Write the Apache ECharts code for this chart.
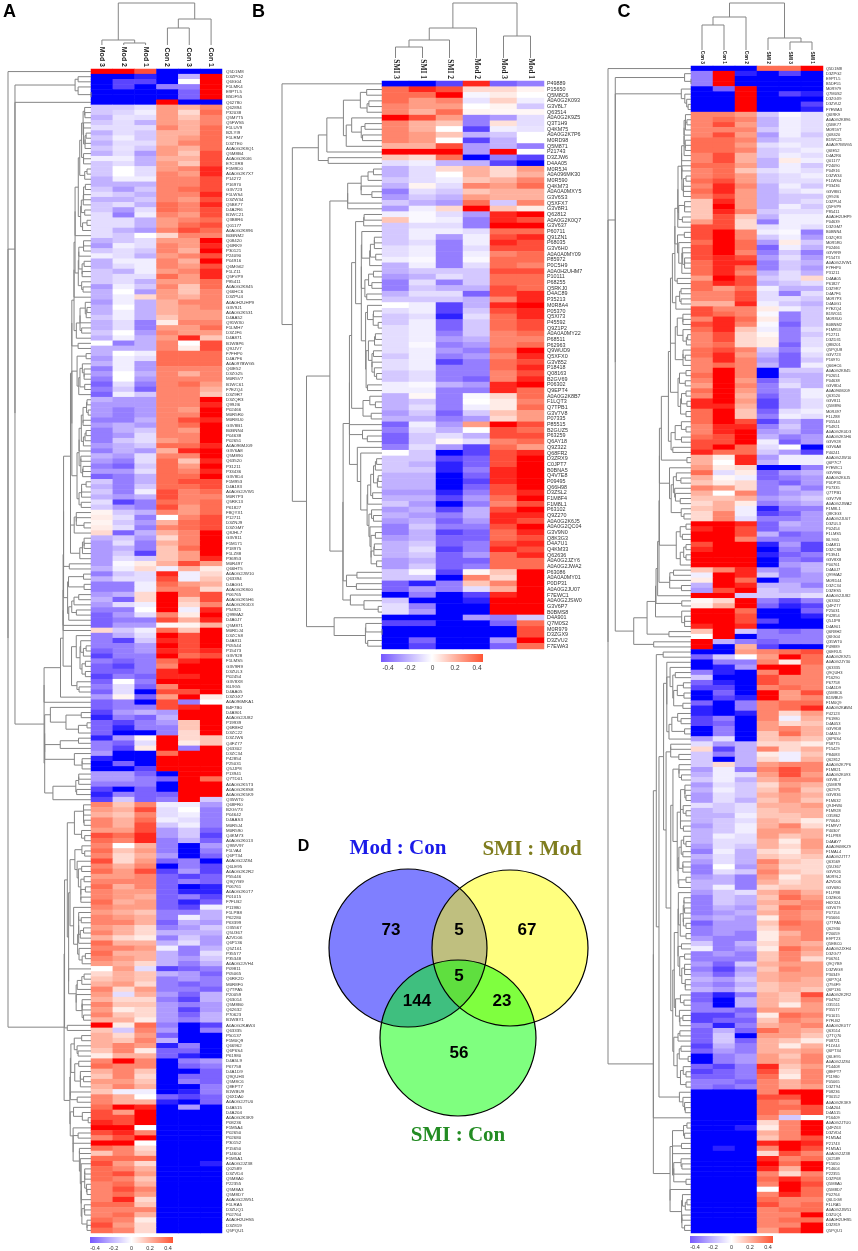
<!DOCTYPE html>
<html><head><meta charset="utf-8">
<script src="https://cdn.jsdelivr.net/npm/echarts/dist/echarts.min.js"></script>
<style>html,body{margin:0;padding:0;background:#fff}#c{width:858px;height:1251px}</style>
</head><body><div id="c"></div>
<script>
// ---------------- DATA ----------------
const A_cols = ['Mod 3','Mod 2','Mod 1','Con 2','Con 3','Con 1'];
const A_rows = ['Q5D1M8','D3ZPG2','Q6IG04','F1LMK4','E9PTL5','B5DF55','Q62780','Q62894','P32038','Q5M7T5',
'Q5FWS5','F1LUV9','B2LYI9','F1LRM7','D3ZTE0','A0A0G2K8Q1','Q5M8B4','A0A0G2K0I6','E7CXR8','F1M9D0',
'A0A0G2K7X7','P14272','P16970','G3V723','F1LWS4','D3ZW34','Q5BK77','D4A2R6','B1WC21','Q3B8R6',
'Q01177','A0A0G2K896','B0BNM2','Q08420','Q6IRK9','P30121','P24090','P04916','Q6MG62','F1LZ11',
'Q5FVP9','P85411','A0A0G2K845','Q66HC6','D3ZPU4','A0A0H2UHP9','G3V9J1','A0A0G2K531','D4AA52','Q91WX0',
'F1LMH7','D3ZJF6','D4A871','B1WBP6','Q9JJV7','F7FHP0','D4A7F6','A0A097BWG5','Q6IE52','D3ZG25',
'M0R5V7','B1WC61','F7EZQ4','D3Z9R7','D3ZQR3','Q99JI6','P02466','M0R5R0','M0R8U0','G3V8B1',
'B0BNN4','P04638','P02651','A0A096MJ09','G3V6A8','Q5M890','Q63520','P31211','P33436','G3V8D4',
'F1M953','D4A183','A0A0G2JVW1','M0R7P3','Q5RK13','P61827','F8QYX1','P12711','D3ZNJ9','D3ZGM7',
'Q8JHL7','G3V811','F1M171','P18975','F1LZ88','P36953','M0R497','Q66HT5','A0A0G2JW10','Q63394',
'D4A0G1','A0A0G2K800','P06765','A0A0G2K5H6','A0A0G2K0D3','P54921','Q99MA2','D4A0J7','Q5M871','M0RDJ4',
'D3ZCS8','D4A811','P05544','P15473','G3V928','F1LMS5','G3V9R9','D3ZUL3','P02454','G3V8X8',
'I6L9G5','D4AA05','D3ZGX7','A0A096MKA1','B4F7B0','D4A901','A0A0G2JU82','P19939','Q6R8H2','D3ZC22',
'D3ZJW6','Q4FZ77','Q63302','D3ZC34','P42854','P25031','Q5JJP8','P13941','Q7TD01','A0A0G2K5T3',
'A0A0G2K8S8','A0A0G2K5K9','Q35WT0','Q68FR0','B2GV73','P04642','D4AAS3','M0R5J4','M0R590','Q4KM73',
'A0A0G2K013','Q9WV97','F1LVA4','Q6PT34','A0A0G2JZ84','Q6LE95','A0A0G2K2R2','P55446','Q9QYB9','P06761',
'A0A0G2K0T7','P01015','F7FLB2','P11980','F1LPB8','P62280','P63399','O35567','Q5U367','A2VD06',
'Q6P136','Q5Z161','P35577','P35348','A0A0G2JVH4','P09811','P05065','Q6RK2D','M0R8F0','Q7TPA5',
'P20059','Q63014','Q5M8B0','Q62632','P70623','B1WBY1','A0A0G2KAW4','Q63335','P50137','F1M0Q9',
'Q66962','Q6P6S4','P61980','D4A5L9','P67758','D4A1D9','Q9QUH3','Q5M8C6','Q8EPT7','B1WBU9',
'Q6XDA0','A0A0G2JTU0','D4A515','D4A204','A0A0G2K3K9','P08236','F1M5A4','P02650','P02680','P30152',
'P15650','P14604','F1M5A1','A0A0G2JZ38','Q02589','D3ZVD4','Q5M8A0','P22355','Q5M8A3','Q5M8D7',
'A0A0G2JW51','F1LRA5','D3ZUQ1','P02764','A0A0H2UHS5','D3Z819','Q5PQU1'];
const A_values = [
[.5,.5,.4,-.5,-.5,-.5],[-.5,-.5,-.45,-.5,-.2,.5],[-.5,-.4,-.4,-.5,0,.5],[-.5,-.4,-.5,-.3,-.3,.5],[-.5,-.5,-.5,-.5,-.35,.5],
[-.5,-.5,-.5,-.5,-.35,.5],[-.5,-.5,-.5,.5,-.5,-.5],[-.15,-.15,-.1,.25,.2,.3],[-.15,-.12,-.05,.25,.1,.35],[-.2,-.08,-.1,.25,.15,.3],
[-.15,-.1,-.2,.25,.2,.3],[-.1,-.1,-.1,.3,.2,.35],[-.2,-.1,-.15,.2,.2,.35],[-.15,-.05,-.15,.2,.25,.35],[-.2,-.1,-.1,.2,.3,.35],
[-.15,-.08,-.15,.25,.2,.35],[-.2,-.1,-.25,.25,.15,.4],[-.05,-.05,-.2,.2,.2,.4],[-.15,-.1,-.2,.25,.15,.4],[-.15,0,-.1,.25,.3,.45],
[-.15,0,-.1,.3,.25,.45],[-.2,-.05,-.05,.3,.3,.4],[-.2,-.2,-.2,.3,.3,.4],[-.15,-.25,-.15,.3,.35,.4],[-.1,-.15,-.2,.3,.3,.45],
[-.2,-.2,-.15,.3,.25,.4],[-.15,-.1,-.2,.35,.3,.45],[-.15,-.25,-.1,.35,.3,.4],[-.1,-.3,-.05,.3,.25,.4],[-.1,-.1,-.2,.25,.3,.35],
[-.1,-.1,-.2,.25,.35,.4],[-.1,-.2,-.25,.3,.4,.35],[-.1,-.15,0,.1,.3,.3],[-.2,-.15,-.1,.25,.25,.5],[-.25,-.05,-.1,.3,.25,.45],
[-.15,-.1,-.15,.3,.2,.5],[-.05,-.1,-.2,.25,.3,.4],[-.2,-.05,-.05,.3,.2,.5],[-.2,-.1,-.05,.3,.25,.4],[-.15,-.2,-.05,.25,.3,.45],
[-.15,-.1,-.1,.35,.25,.45],[-.15,-.1,-.2,.25,.25,.35],[-.25,-.05,-.15,.3,.15,.35],[-.2,0,-.25,.25,.15,.3],[-.2,-.05,.1,.25,.2,.3],
[-.25,-.05,-.2,.2,.3,.3],[-.2,0,-.2,.2,.25,.3],[-.2,-.05,-.2,.2,.25,.25],[-.15,-.05,-.2,.15,.25,.25],[-.2,-.1,-.3,.05,.3,.3],
[-.2,-.1,-.3,.25,.25,.35],[-.15,0,-.25,.3,.25,.25],[-.2,-.05,-.2,.25,.45,.15],[0,-.3,-.2,.3,0,.4],[-.2,-.2,-.2,.3,.05,.4],
[-.2,0,-.05,.35,.35,.35],[-.25,-.05,-.1,.35,.35,.35],[-.2,-.05,-.25,.35,.35,.35],[-.3,-.05,-.25,.3,.3,.3],[-.25,0,-.2,.3,.2,.3],
[-.3,0,-.25,.3,.3,.3],[-.35,-.1,-.3,.3,.35,.25],[-.3,-.15,-.35,.3,.3,.2],[-.35,-.05,-.15,.3,.3,.15],[-.2,-.25,-.25,.3,.3,.5],
[-.25,-.25,-.25,.3,.3,.45],[-.25,-.3,-.25,.3,.25,.5],[-.25,-.3,-.25,.3,.3,.5],[-.3,-.3,-.2,.3,.4,.45],[-.25,-.2,-.25,.3,.35,.5],
[-.3,-.2,-.15,.3,.25,.5],[-.3,-.25,-.1,.3,.3,.5],[-.3,-.15,-.1,.25,.3,.5],[-.25,-.2,-.15,.35,.35,.45],[-.3,-.2,-.25,.2,.45,.5],
[-.2,-.25,-.1,.3,.3,.5],[-.25,-.3,-.1,.35,.15,.45],[-.3,-.35,-.15,.35,.25,.5],[-.25,-.25,-.1,.35,.3,.45],[-.35,-.3,-.2,.35,.35,.5],
[-.15,-.3,-.2,.35,.4,.4],[-.2,-.3,-.15,.35,.35,.4],[-.15,-.3,-.05,.4,.3,.35],[-.2,-.25,-.2,.4,.3,.3],[-.1,-.4,-.3,.35,.3,.35],
[-.15,-.25,-.3,.4,.25,.35],[.03,-.15,-.2,.3,.25,.35],[.05,-.1,-.3,0,.3,.4],[.03,-.15,-.25,.2,.35,.4],[.05,-.1,-.3,.3,.35,.4],
[.1,-.35,-.2,.2,.3,.5],[-.2,-.15,-.25,.1,.3,.5],[-.25,-.1,-.3,.2,.3,.5],[-.25,-.2,-.3,.15,.35,.5],[-.25,-.15,-.4,.15,.25,.5],
[-.25,-.1,-.15,.15,.25,.45],[-.25,-.02,.05,.2,.4,.25],[-.2,-.05,.1,-.05,.2,.05],[-.3,-.15,-.1,.45,-.05,.1],[-.2,-.1,-.1,.4,-.05,.15],
[-.3,-.3,-.05,.35,.25,.2],[-.3,-.3,-.05,.3,.3,.1],[-.25,-.2,.1,.5,.3,.4],[-.2,-.35,.1,.5,.15,.4],[-.25,-.1,-.05,.5,.1,.3],
[-.3,-.3,0,.5,-.05,.45],[-.35,-.25,-.1,.3,.05,.5],[-.35,-.3,-.3,.4,.2,.45],[-.35,-.25,-.25,.02,.03,.2],[.1,-.15,-.05,.35,.15,.5],
[-.3,-.2,-.1,.5,.4,.5],[-.3,-.4,-.15,.45,.4,.5],[-.3,-.3,-.25,.5,.4,.5],[-.35,-.3,-.25,.45,.4,.45],[-.4,-.3,-.3,.5,.35,.4],
[-.3,-.35,-.3,.35,.45,.5],[-.35,-.4,-.3,.3,.5,.5],[-.35,-.35,-.3,.45,.5,.5],[-.4,-.3,-.35,.45,.45,.5],[-.35,0,-.3,.5,.5,.5],
[-.3,-.1,-.35,.3,.5,.5],[-.35,-.1,-.5,.4,.4,.5],[-.25,.03,-.35,.25,.5,.05],[-.35,-.3,-.5,.4,-.3,0],[-.35,-.3,-.3,.4,.45,.5],
[-.4,-.25,-.2,-.25,.5,.5],[-.45,-.3,-.35,-.2,.5,.5],[-.35,-.4,-.3,-.25,.15,.5],[-.35,-.45,-.3,-.3,.15,.5],[-.35,-.5,-.5,-.3,.1,.5],
[-.45,-.25,.02,.5,.1,.15],[-.3,-.35,-.1,.5,.05,.15],[-.3,-.4,.05,.5,-.3,.5],[-.25,-.5,-.5,.35,.5,.5],[-.45,-.5,-.5,.5,.5,.5],
[-.5,-.35,-.5,.5,.5,.5],[-.5,-.5,-.4,.5,.5,.5],[-.25,-.25,-.35,-.5,.5,.5],[-.25,-.25,-.3,-.35,.5,.35],[-.3,-.3,-.3,-.5,.5,.5],
[-.4,-.5,-.35,-.5,.5,.5],[-.45,-.3,-.35,-.35,.5,.5],[-.4,-.15,-.35,-.3,.5,-.15],[.3,.15,.3,-.05,-.05,-.25],[.25,.2,.4,-.1,0,-.3],
[.2,.15,.3,-.1,-.05,-.3],[.3,.2,.35,-.05,-.1,-.3],[.3,.2,.4,-.15,-.05,-.3],[.25,.25,.4,-.25,-.15,-.35],[.4,.35,.45,-.25,-.15,-.4],
[.35,.3,.45,-.3,-.2,-.35],[.3,0,.2,-.3,-.5,-.25],[.35,.15,.25,-.3,-.5,-.3],[.3,.1,.2,-.25,-.5,-.35],[.4,.1,.25,-.35,-.3,-.5],
[.3,.2,.3,-.5,-.3,-.4],[.35,.25,.4,-.4,-.25,-.4],[.25,.25,.3,-.35,-.4,-.35],[.3,.3,.3,-.35,-.3,-.35],[.35,.2,.3,-.35,-.5,-.45],
[.3,.25,.25,-.35,-.45,-.45],[.3,.25,.2,-.35,-.3,-.4],[.35,.2,.25,-.35,-.45,-.35],[.3,.25,.25,-.35,-.4,-.05],[.25,.2,.15,-.3,-.3,-.2],
[.3,.25,.2,-.3,-.05,-.2],[.3,.3,.2,-.35,-.2,-.25],[.25,.2,.1,-.3,-.25,-.15],[.3,.2,.1,-.2,-.2,-.2],[.2,.1,.05,-.3,-.15,-.25],
[.35,.2,.2,-.2,-.1,-.25],[.3,.3,.25,-.05,-.3,-.2],[.35,.2,.2,-.2,-.3,-.1],[.3,.25,.2,-.2,-.25,-.15],[.25,.2,.1,-.2,-.3,-.2],
[0,.25,-.1,-.4,-.35,-.3],[.1,.2,.15,-.2,-.25,-.35],[.15,.2,.15,-.3,-.25,-.3],[.2,.25,.1,-.3,-.35,-.3],[.3,.1,.25,-.3,-.3,-.35],
[.25,-.1,.2,-.25,-.35,-.2],[.2,.1,.1,-.3,-.4,-.2],[.3,.15,.15,-.25,-.3,-.25],[.25,.05,.1,-.25,-.4,-.25],[.3,.15,.1,-.25,-.35,-.2],
[.2,.2,.05,-.25,-.3,-.2],[.5,.05,.35,-.3,-.5,-.4],[.15,-.15,.3,-.25,-.5,-.3],[.2,.1,.25,-.35,-.5,-.5],[.2,.15,.3,-.2,-.5,-.5],
[.2,.3,.25,-.45,-.3,-.5],[.15,.3,.05,-.35,-.35,-.5],[.05,.2,.2,-.35,-.45,-.5],[.3,.5,.3,-.5,-.3,-.25],[.35,.3,.3,-.5,-.35,-.3],
[.2,.3,.15,-.5,-.5,-.35],[.15,.3,.1,-.5,-.35,-.35],[.25,.25,.15,-.5,-.3,-.35],[.2,.3,.2,-.5,-.5,-.3],[.15,-.05,-.05,-.5,-.45,-.3],
[.3,.2,0,-.35,-.4,-.35],[.3,.2,.2,-.45,-.5,-.35],[.35,.5,.45,-.5,-.25,-.5],[.4,.25,.5,-.5,-.5,-.5],[.4,.4,.5,-.5,-.5,-.5],
[.45,.4,.5,-.5,-.5,-.5],[.5,.5,0,-.5,-.5,-.5],[.4,.45,.3,-.5,-.5,-.5],[.3,.4,.5,-.5,-.5,-.5],[.5,.5,0,-.5,-.5,-.5],
[.35,.3,.1,-.5,-.5,-.5],[.15,.3,.15,-.5,-.5,-.5],[.35,.35,.35,-.5,-.5,-.5],[.4,.25,.1,-.5,-.5,-.45],[.35,.3,.2,-.5,-.5,-.5],
[.35,.4,.25,-.5,-.5,-.5],[.35,.3,.15,-.5,-.5,-.5],[.3,.35,.2,-.5,-.5,-.5],[.3,.4,.3,-.5,-.5,-.5],[.3,.35,.25,-.5,-.5,-.5],
[.3,.45,.1,-.5,-.5,-.5],[.35,.35,.15,-.5,-.5,-.5],[.3,.3,.3,-.5,-.5,-.5],[.3,.35,.2,-.5,-.5,-.5],[.35,.3,.05,-.5,-.5,-.5],
[.4,.25,.1,-.5,-.5,-.5],[.35,.3,.1,-.5,-.5,-.5]];
// column dendrogram: [left, right, height] (scipy-style node numbering)
const A_colLinkage = [[1,2,2],[0,6,5],[3,4,17],[8,5,26],[7,9,42]];

const B_cols = ['SMI 3','SMI 1','SMI 2','Mod 2','Mod 3','Mod 1'];
const B_rows = ['P49889','P15650','Q5M8C6','A0A0G2K093','G3V8L7','Q63514','A0A0G2K9Z5','Q3T1H9','Q4KM75','A0A0G2K7P6',
'M0RD98','Q5M871','P21743','D3ZJW6','D4AA05','M0R5J4','A0A096MK30','M0R590','Q4KM73','A0A0A0MXY5',
'G3V6S3','Q5XFX7','G3V8R1','Q62812','A0A0G2K0Q7','G3V637','P60711','Q91ZN1','P68035','G3V6H0',
'A0A0A0MY09','P85972','P0C5H9','A0A0H2UHM7','P10111','P68255','Q5RKJ0','D4AC89','P35213','M0R8A4',
'P05370','Q5XI73','P45592','Q9Z1P2','A0A0A0MY22','P68511','P62963','Q9WUD9','Q5XFX0','G3V852',
'P18418','Q08163','B2GV69','P06302','Q9EPT4','A0A0G2K8B7','F1LQT3','Q7TPB1','G3V7V8','P07335',
'P85515','B2GUZ5','P63259','Q6AY18','Q9Z322','Q68FR2','D3ZRX9','C0JPT7','B0BNA5','Q4V7E8',
'P09495','Q66H98','D3ZSL2','F1M8F4','F1M8L1','P63102','Q9Z270','A0A0G2K6J5','A0A0G2QC04','G3V9N0',
'Q8K3G3','D4A7U1','Q4KM33','Q62636','A0A0G2JZY6','A0A0G2JWA2','P63086','A0A0A0MY01','P0DP31','A0A0G2JU07',
'F7EWC1','A0A0G2JSW0','G3V6P7','B0BMS8','D4A901','Q7M0S2','M0R979','D3ZGX9','D3ZVU2','F7EWA3'];
const B_values = [
[-.5,-.5,-.4,.45,-.35,-.3],[.35,.45,.4,.1,.1,.03],[.35,.35,.5,-.03,.05,0],[.35,.25,.3,-.08,.12,-.05],[.3,.25,.25,0,.03,-.15],
[.3,.2,.35,.03,.02,.02],[.5,.4,.25,-.3,-.25,-.1],[.3,.2,.15,-.3,.08,-.1],[.3,.2,0,-.4,-.05,-.08],[.3,.25,.15,-.2,-.15,0],
[.3,.25,0,-.4,-.2,0],[.2,.2,.4,-.25,-.2,-.3],[.5,.5,.5,-.25,.5,0],[.15,.1,.35,-.5,-.3,-.4],[-.1,-.05,-.2,-.2,-.4,-.5],
[-.2,-.1,.1,.2,.1,.25],[-.2,-.1,0,.2,.1,.2],[-.15,-.1,-.05,.15,.2,.3],[-.2,.03,-.1,.3,.25,.35],[-.3,-.1,-.15,.15,.2,.2],
[-.25,-.15,-.2,.25,.2,.2],[-.15,-.2,-.25,.35,-.15,.3],[-.25,-.05,.1,.5,.15,.05],[-.05,-.02,-.1,-.25,.45,.5],[.15,-.02,-.05,-.3,.45,.4],
[-.15,-.1,-.1,-.3,.5,.5],[-.15,-.05,-.05,-.1,.35,.35],[-.15,-.05,-.25,-.05,.4,.45],[-.15,-.1,-.3,-.05,.45,.4],[-.1,-.05,-.3,-.1,.4,.4],
[-.1,-.05,-.3,-.05,.3,.35],[-.05,-.02,-.3,-.02,.35,.35],[-.2,-.05,-.3,-.1,.35,.3],[-.2,-.15,-.15,-.15,.4,.4],[-.25,-.2,-.1,-.15,.35,.35],
[-.3,-.1,-.3,-.15,.35,.35],[-.3,-.15,-.2,-.2,.4,.35],[-.2,-.1,-.1,-.35,.4,.45],[-.15,-.15,-.15,-.2,.3,.45],[0,-.05,-.4,-.2,.45,.5],
[-.1,-.05,-.4,-.15,.4,.45],[-.15,-.1,-.45,-.1,.35,.45],[-.15,-.05,-.35,-.15,.35,.4],[-.1,-.05,-.35,-.15,.35,.4],[-.1,-.05,-.3,-.15,.3,.35],
[-.1,-.05,-.25,-.2,.3,.3],[-.1,-.02,-.3,-.25,.3,.35],[-.1,-.05,-.25,-.3,.35,.5],[-.15,-.05,-.3,-.25,.3,.45],[-.1,-.05,-.4,-.3,.35,.4],
[-.1,-.05,-.3,-.3,.35,.45],[-.15,-.1,-.3,-.3,.3,.4],[-.15,-.1,-.3,-.35,.3,.45],[-.05,-.02,-.2,-.25,.45,.5],[-.05,-.05,-.3,-.3,.45,.35],
[-.2,.02,-.3,-.02,.1,.35],[-.2,-.15,-.3,0,.05,.3],[-.2,-.1,-.3,-.05,.05,.35],[-.25,-.15,-.35,-.15,.15,.25],[-.2,-.2,-.3,-.25,.1,.25],
[-.35,-.05,-.25,.25,.5,.4],[-.3,-.1,-.2,0,.4,.35],[-.35,-.15,-.1,-.2,.4,.4],[-.35,-.15,.02,-.1,.3,.35],[-.3,-.1,-.25,-.4,.35,.25],
[0,-.15,-.5,-.4,.4,.45],[-.15,-.15,-.4,-.35,.4,.5],[-.15,-.2,-.45,-.35,.4,.5],[-.15,-.15,-.45,-.3,.45,.5],[-.2,-.2,-.5,-.35,.45,.5],
[-.2,-.2,-.5,-.4,.45,.5],[-.2,-.2,-.5,-.35,.4,.5],[-.25,-.25,-.45,-.3,.4,.45],[-.2,-.2,-.4,-.25,.35,.5],[-.15,-.25,-.5,-.3,.3,.4],
[-.25,-.2,-.4,-.2,.4,.5],[-.2,-.25,-.3,-.2,.45,.45],[-.25,-.2,-.35,-.25,.45,.4],[-.3,-.15,-.3,-.3,.4,.5],[-.3,-.2,-.4,-.35,.35,.45],
[-.25,-.2,-.35,-.35,.35,.4],[-.2,-.15,-.35,-.3,.4,.45],[-.2,-.1,-.4,-.3,.45,.4],[-.2,-.15,-.35,-.25,.35,.45],[-.25,-.2,-.35,-.35,.35,.35],
[-.25,-.15,-.35,-.3,.35,.35],[-.15,-.02,-.4,.02,.15,.5],[-.15,-.15,-.5,.3,.1,.5],[-.35,-.45,-.3,.15,.3,.5],[-.35,-.25,-.3,-.1,.2,.5],
[-.5,-.3,-.5,-.4,.45,.5],[-.15,-.5,-.5,-.45,.5,.5],[-.1,-.3,-.5,-.5,.5,.5],[-.1,-.25,-.5,-.5,.5,.5],[-.5,-.5,-.5,-.25,-.3,-.15],
[-.4,-.4,-.5,-.5,-.35,.35],[-.5,-.5,-.5,-.5,-.5,.4],[-.5,-.5,-.5,-.5,-.5,.4],[-.5,-.35,-.5,-.5,-.25,.5],[-.5,-.4,-.5,-.5,-.35,.35]];
const B_colLinkage = [[0,1,11],[6,2,18],[7,3,30],[4,5,22],[8,9,55]];

const C_cols = ['Con 3','Con 1','Con 2','SMI 2','SMI 3','SMI 1'];
const C_rows = ['Q5D1M8','D3ZPG2','E9PTL5','B5DF55','M0R979','Q7M0S2','D3ZGX9','D3ZVU2','F7EWA3','Q6IRK9',
'A0A0G2K896','Q5BK77','M0R5V7','Q08420','B1WC21','A0A097BWG5','Q6IE52','D4A2R6','Q01177','P24090',
'P04916','D3ZW34','F1LWS4','P33436','G3V8B1','Q99JI6','D3ZPU4','Q5FVP9','P85411','A0A0H2UHP9',
'P04639','D3ZGM7','B0BNN4','D3ZQR3','M0R5R0','P02466','G3V9R9','P15473','A0A0G2JVW1','F7FHP0',
'P31211','D4AA05','P61827','D3Z9R7','D4A7F6','M0R7P3','D4A0G1','F7EZQ4','B1WC61','M0R8U0',
'B0BNM2','F1M953','P12711','D3ZD31','Q8B201','Q5PQU8','G3V723','P16970','Q66HC6','A0A0G2K845',
'P02651','P04638','G3V8D4','A0A096MJ09','Q63520','G3V811','Q5M890','M0R497','F1LZ88','P05544',
'P54921','A0A0G2K0D3','A0A0G2K5H6','G3V928','G3V6A8','P40241','A0A0G2JW10','Q6P7C7','F7EWC1','G3V9N0',
'A0A0G2K6J5','P0DP31','P07335','Q7TPB1','G3V7V8','A0A0G2JWA2','F1M8L1','Q8K3G3','A0A0G2JU07','D3ZUL3',
'P02454','F1LMS5','I6L9G5','D4A811','D3ZCS8','P13941','G3V8X8','P00761','D4A0J7','Q99MA2',
'M0RDJ4','D3ZC34','D3ZES5','A0A0G2JU82','Q63302','Q4FZ77','P25031','P42854','Q5JJP8','D4A901',
'Q6R8H2','Q6IG04','Q35WT0','P49889','Q6ERU1','A0A0G2K9Z5','A0A0G2JY30','Q63335','Q9QUH3','P16290',
'P67758','D4A1D9','Q5M8C6','B1WBU9','F1M0Q9','A0A0G2KAW4','P42123','P61980','D4A053','G3V9D8',
'D4A5L9','Q6P6S4','P58775','P15429','P84083','Q62812','A0A0G2K7P6','F1M821','A0A0G2K093','G3V8L7',
'Q5M878','Q62975','G3V836','F1M632','Q9JHW0','F1M928','O35862','P70640','F1M9V7','P40307',
'F1LPR8','D4AAY7','A0A096MKZ9','F1MAL4','A0A0G2JTT7','Q63569','Q5U367','G3V926','M0R9L2','A2VD06',
'G3V680','F1LP88','D3ZE06','H6X324','G3V679','P07154','P05666','Q7TPA5','Q62930','P20059',
'E9PT23','Q5EBC0','A0A0G2JXH4','D3ZG77','P06761','Q9QYB9','D3ZWG8','P30349','Q6P7Q4','Q794F9',
'Q6P136','A0A0G2K2R2','P04762','O35511','P35577','P01015','F7FLB2','A0A0G2K0T7','Q63514','Q7TQ70',
'P08721','F1LV44','Q6PT34','Q6LE95','A0A0G2JZ84','P14408','Q8EPT7','P11980','P05065','D3ZT94',
'P08236','P30152','A0A0G2K3K9','D4A204','D4A515','P16409','A0A0G2JTU0','Q4FZ63','D3ZVD4','F1M5A4',
'P21743','F1M5A1','A0A0G2JZ38','Q02589','P15650','P14604','P22355','D3ZP68','Q5M8A0','Q5M8D7',
'P02764','Q6LDG8','F1LRA5','A0A0G2JW51','D3ZUQ1','A0A0H2UHS5','D3Z819','Q5PQU1'];
const C_values = [
[-.5,-.5,-.5,.35,.35,.5],[-.3,.5,-.45,-.5,-.4,-.5],[-.3,.5,-.5,-.5,-.5,-.5],[-.3,.5,-.5,-.5,-.5,-.5],[-.5,-.35,.5,-.5,-.5,-.5],
[-.5,-.5,.5,-.5,-.4,-.45],[-.5,-.5,.5,-.5,-.5,-.5],[-.5,-.5,.5,-.5,-.5,-.4],[-.5,-.5,.5,-.5,-.5,-.45],[.3,.3,.25,-.15,-.02,-.1],
[.3,.35,.3,-.2,-.05,-.1],[.3,.4,.25,-.2,-.05,-.1],[.3,.3,.3,-.15,-.05,-.1],[.3,.4,.25,-.25,-.05,-.15],[.35,.35,.3,-.2,-.1,-.1],
[.35,.35,.25,-.1,-.05,-.1],[.35,.35,.3,-.15,-.1,-.05],[.3,.4,.2,-.15,-.05,-.1],[.3,.4,.2,-.2,.05,-.05],[.35,.35,.25,-.2,-.05,-.15],
[.3,.35,.15,-.1,-.05,-.1],[.3,.35,.25,-.15,-.1,-.05],[.35,.4,.25,-.15,-.1,-.1],[.3,.45,.3,-.2,-.05,-.15],[.35,.45,.25,-.2,-.1,-.05],
[.3,.4,.25,-.2,-.15,-.15],[.15,.45,.25,-.2,-.15,-.1],[.15,.5,.25,-.2,-.05,-.15],[.15,.45,.3,-.15,-.1,-.1],[.15,.4,.15,-.2,-.05,-.05],
[.25,.4,.1,-.3,-.05,-.05],[.4,.4,.1,-.1,-.05,-.1],[.4,.5,.3,-.05,-.02,-.3],[.4,.5,.3,-.15,-.05,-.25],[.35,.5,.35,-.25,.05,-.15],
[.4,.5,.35,-.35,-.05,-.2],[.4,.5,.3,-.3,-.15,-.3],[.4,.45,.4,-.25,-.1,-.25],[.35,.45,.45,-.3,-.15,-.2],[.35,.45,.35,-.3,-.15,-.25],
[.35,.45,.3,-.2,-.1,-.2],[.25,.5,.4,-.15,-.1,.1],[.35,.45,.4,-.2,-.15,-.1],[.35,.25,.35,-.05,-.2,-.2],[.3,.3,.4,-.1,-.3,-.1],
[.3,.3,.4,-.1,-.1,-.15],[.2,.2,.45,-.05,-.15,-.2],[.4,.3,.3,.05,-.05,-.15],[.4,.35,.3,-.02,-.3,-.15],[.3,.45,.35,.05,-.3,-.15],
[.4,.45,.3,-.02,-.35,-.15],[.35,.45,.15,-.05,-.3,-.1],[.3,.4,.1,.02,-.3,-.15],[.3,.4,.1,.05,-.3,-.1],[.3,.35,.1,.05,-.35,-.1],
[.35,.4,.3,-.15,-.3,-.05],[.35,.45,.25,-.2,-.35,-.1],[.3,.45,.3,-.25,-.35,-.15],[.3,.35,.3,-.2,-.35,-.05],[.3,.5,.3,-.5,-.15,-.15],
[.35,.5,.3,-.5,-.2,-.2],[.3,.5,.25,-.35,-.15,-.2],[.25,.5,.3,-.3,-.1,-.2],[.35,.5,.25,-.3,-.2,-.05],[.3,.5,.2,-.35,-.2,-.05],
[.45,.5,.25,-.4,-.2,-.1],[.45,.45,.2,-.4,-.2,-.1],[.35,.5,.15,-.35,-.1,-.05],[.35,.5,.15,-.3,-.05,-.1],[.35,.5,.4,-.4,-.2,-.3],
[.3,.45,.45,-.3,-.15,-.3],[.3,.45,.5,-.25,-.2,-.3],[.35,.4,.5,-.2,-.3,-.25],[.4,.4,.5,-.05,-.35,-.25],[.4,.5,.35,-.1,0,-.5],
[.45,.35,.35,-.15,-.25,-.4],[.2,.05,.45,-.25,-.05,-.05],[.2,0,.45,-.2,-.05,-.05],[.25,.05,.1,-.5,-.5,-.3],[.35,-.1,.05,-.35,-.25,-.2],
[.2,.02,-.05,-.35,-.3,-.25],[.15,.05,.1,-.3,-.35,-.25],[.3,.25,.1,-.3,-.2,-.3],[.2,0,.3,-.3,-.25,-.2],[.15,.15,.2,-.25,-.2,-.15],
[.1,.2,.05,-.3,-.25,-.2],[.15,.2,-.05,-.45,-.3,-.3],[.1,.3,-.05,-.4,-.35,-.25],[.1,.3,-.1,-.3,-.3,-.25],[.5,.5,.45,-.35,-.2,-.25],
[.45,.5,.4,-.35,-.25,-.25],[.5,.5,.4,-.2,-.35,-.3],[.5,.5,.3,-.3,-.3,-.3],[.4,.5,.5,-.45,-.25,-.4],[.45,.5,.5,-.5,-.3,-.4],
[.5,.5,.5,-.45,-.35,-.3],[.5,.5,.5,-.5,-.3,-.35],[.5,.5,.5,-.5,-.25,-.2],[.15,.3,.45,-.25,-.3,-.2],[-.05,.5,.45,-.15,-.3,-.25],
[.05,.5,.35,-.5,-.25,-.25],[-.2,.5,.45,-.2,-.2,-.3],[-.25,.4,.5,-.15,-.2,-.2],[.5,.5,-.15,-.15,-.15,-.1],[.02,.1,.5,-.3,-.4,-.3],
[.05,.2,.5,-.35,-.45,-.4],[.5,.5,.35,-.5,-.5,-.35],[.5,.5,.4,-.5,-.5,-.45],[.5,.5,.4,-.4,-.5,-.5],[.45,.5,.45,-.5,-.5,-.5],
[.15,.5,-.15,-.3,-.35,-.3],[0,.5,-.5,-.3,-.3,-.3],[.5,-.2,-.3,-.35,-.3,-.3],[.5,-.5,.2,-.4,-.5,-.5],[-.5,-.5,.25,.3,.35,.4],
[-.35,-.15,0,.25,.5,.35],[-.5,-.3,-.3,.3,.05,.35],[-.5,-.45,-.25,.5,.5,.3],[-.3,-.45,-.5,.3,.5,.3],[-.15,-.5,-.5,.4,.3,.3],
[-.35,-.45,-.5,.4,.3,.3],[-.4,-.4,-.5,.3,.35,.3],[-.5,-.35,-.5,.5,.25,.4],[-.5,-.4,-.45,.5,.25,.3],[-.35,-.5,-.3,.3,.35,.35],
[-.45,-.5,-.3,.3,.35,.45],[-.45,-.5,-.45,.3,.1,.25],[-.4,-.3,-.5,.3,-.05,.2],[-.4,-.35,-.5,.25,.1,.15],[-.5,-.3,-.5,.25,.3,.2],
[-.5,-.3,-.5,.15,.35,.2],[-.25,-.1,-.5,.15,.2,.15],[-.1,-.25,-.2,.1,.1,.05],[.1,-.4,-.2,.3,.1,.2],[-.15,-.3,-.2,.05,-.05,.15],
[-.15,-.5,-.2,.1,-.05,.2],[-.15,.1,-.2,.25,.3,.3],[-.25,-.05,-.3,.3,.4,.3],[-.2,-.05,-.1,.25,.4,.25],[-.15,-.05,-.2,.2,.3,.3],
[-.25,-.1,-.15,.1,.25,.2],[-.2,-.05,-.15,.15,.3,.15],[-.25,-.1,-.15,.2,.25,.2],[-.25,-.1,-.2,.15,.25,.15],[-.1,-.15,-.1,.2,.2,.25],
[-.2,-.15,-.1,.15,.2,.2],[-.2,-.2,-.05,.15,.15,.2],[-.2,-.15,-.1,.2,.15,.05],[-.25,-.15,-.05,.2,.3,.1],[-.2,-.15,-.05,.25,.25,.2],
[-.2,-.05,-.1,.25,.15,.2],[-.2,-.1,-.1,.2,.05,.25],[-.25,-.1,-.15,.2,.1,.25],[-.3,-.05,-.2,.1,.05,.2],[-.2,-.1,-.2,.15,.1,.15],
[-.25,-.1,-.2,.3,.15,.1],[-.3,0,-.25,.25,.1,.1],[-.3,-.1,-.15,.3,.15,.1],[-.25,-.2,-.3,.25,.05,.15],[-.2,-.2,-.3,.2,.1,.15],
[-.2,-.05,-.3,.1,.15,.15],[-.25,-.15,-.1,.2,.3,.2],[-.3,-.15,-.2,.15,.35,.25],[-.3,-.15,-.2,.2,.25,.3],[-.3,-.2,-.25,.15,.35,.3],
[-.3,-.25,-.2,.2,.3,.25],[-.25,-.2,-.25,.05,.3,.25],[-.35,-.25,-.25,.15,.35,.3],[-.3,-.25,-.25,.1,.3,.3],[-.3,-.25,-.3,.05,.2,.3],
[-.25,-.3,-.3,.05,.25,.3],[-.15,-.3,-.2,.1,.25,.2],[-.05,-.3,-.25,.05,.35,.25],[-.3,-.25,-.3,.15,.3,.2],[-.3,-.3,-.3,.15,.3,.1],
[-.25,-.35,-.15,.2,.25,.25],[-.3,-.4,-.25,.15,.3,.25],[-.25,-.35,-.2,.2,.25,.25],[-.2,-.25,-.15,.2,.25,.2],[-.25,-.3,-.2,.15,.2,.2],
[-.2,-.25,-.15,.15,.2,.15],[-.35,-.45,-.3,.2,.15,.4],[-.35,-.5,-.2,.2,.15,.3],[-.3,-.5,-.2,.2,.05,.25],[-.3,-.3,-.35,.25,.25,.25],
[-.4,-.4,-.3,.05,.35,.3],[-.4,-.35,-.35,.15,.3,.25],[-.3,-.45,-.3,.2,.25,.3],[-.35,-.2,-.35,.35,.25,.2],[-.35,-.15,-.5,.25,.25,.15],
[-.35,-.15,-.35,.2,.15,.05],[-.4,-.2,-.3,.2,.05,.2],[-.35,-.25,-.3,.2,.2,.25],[-.5,-.3,-.25,.25,.15,.3],[-.5,-.3,-.25,.25,.2,.3],
[-.35,-.4,-.3,.45,.15,.25],[-.4,-.35,-.3,.4,.1,.3],[-.35,-.35,-.3,.35,.05,.3],[-.3,-.3,-.35,.3,.2,.3],[-.3,-.35,-.3,.3,.2,.25],
[-.5,-.5,-.5,.3,.5,.5],[-.5,-.5,-.5,.4,.4,.5],[-.5,-.5,-.5,.35,.3,.5],[-.5,-.5,-.5,.35,.35,.4],[-.5,-.5,-.5,.35,.25,.4],
[-.5,-.5,-.5,.3,-.15,0],[-.5,-.5,-.5,.1,.3,.5],[-.5,-.5,-.45,.05,.3,.5],[-.5,-.5,-.5,.2,.3,.5],[-.5,-.5,-.5,.15,.3,.4],
[-.5,-.5,-.5,.45,.5,.45],[-.5,-.45,-.5,.3,.5,.4],[-.5,-.5,-.5,.1,.4,.3],[-.5,-.5,-.5,.45,.3,.35],[-.5,-.5,-.5,.5,.35,.5],
[-.5,-.5,-.5,.45,.2,.5],[-.5,-.5,-.5,.3,.1,.3],[-.5,-.5,-.5,.35,.45,.35],[-.5,-.5,-.5,.3,.5,.4],[-.5,-.5,-.5,0,.5,.35],
[-.5,-.5,-.5,.3,.45,.35],[-.5,-.5,-.5,.35,.3,.3],[-.5,-.5,-.5,.4,.3,.35],[-.5,-.5,-.5,.3,.35,.35],[-.5,-.5,-.5,.3,.3,.5],
[-.5,-.5,-.5,.3,.35,.35],[-.5,-.5,-.5,.3,.3,.5],[-.5,-.5,-.5,.25,.4,.5]];
const C_colLinkage = [[0,1,25],[6,2,33],[4,5,8],[3,8,12],[7,9,47]];

const VENN_SETS = ['Mod : Con','SMI : Mod','SMI : Con'];
// regions: Mod:Con only, SMI:Mod only, SMI:Con only, MC∩SM, MC∩SC, SM∩SC, all three
const VENN_COUNTS = [73, 67, 56, 5, 144, 23, 5];
const COLORBAR_TICKS = ['-0.4','-0.2','0','0.2','0.4'];

// ---------------- helpers ----------------
const COLOR_STOPS = ['#0000ff','#7055ff','#ae9aff','#ddd4ff','#ffffff','#ffd0c4','#ff9d85','#ff6248','#ff0000'];
function heatData(vals){const o=[];vals.forEach((r,i)=>r.forEach((v,j)=>o.push([j,i,v])));return o;}
function rowTree(vals){
  const D=vals.map(a=>vals.map(b=>Math.sqrt(a.reduce((s,x,k)=>s+(x-b[k])*(x-b[k]),0))));
  const avg=(A,B)=>{let s=0;for(const i of A.m)for(const j of B.m)s+=D[i][j];return s/(A.m.length*B.m.length);};
  let cl=vals.map((v,i)=>({m:[i],h:0,p:i+0.5}));
  const adj=[];for(let i=0;i<cl.length-1;i++)adj.push(avg(cl[i],cl[i+1]));
  const segs=[];
  while(cl.length>1){
    let bi=0;for(let i=1;i<adj.length;i++)if(adj[i]<adj[bi])bi=i;
    const A=cl[bi],B=cl[bi+1];const h=Math.max(adj[bi],A.h,B.h);
    segs.push([A.h,A.p,h,A.p,h,B.p,B.h,B.p]);
    const N={m:A.m.concat(B.m),h:h,p:(A.p+B.p)/2};
    cl.splice(bi,2,N);adj.splice(bi,1);
    if(bi>0)adj[bi-1]=avg(cl[bi-1],N);
    if(bi<cl.length-1)adj[bi]=avg(N,cl[bi+1]);
  }
  return {segs:segs,root:cl[0].h};
}
function colTree(link,n){
  const nodes=[];for(let i=0;i<n;i++)nodes.push({h:0,p:i+0.5});
  const segs=[];
  link.forEach(([a,b,h])=>{const A=nodes[a],B=nodes[b];segs.push([A.p,A.h,A.p,h,B.p,h,B.p,B.h]);nodes.push({h:h,p:(A.p+B.p)/2});});
  return {segs:segs,root:nodes[nodes.length-1].h};
}
function segSeries(segs,xi,yi){
  return {type:'custom',xAxisIndex:xi,yAxisIndex:yi,data:segs,silent:true,animation:false,clip:false,
    renderItem:function(params,api){const pts=[];for(let k=0;k<4;k++)pts.push(api.coord([api.value(2*k),api.value(2*k+1)]));
      return {type:'polyline',shape:{points:pts},style:{stroke:'#858585',fill:'none',lineWidth:1}};}};
}

// ---------------- layout ----------------
const P = {
  A:{heat:{left:91,top:69,width:131,height:1164},row:{left:8,width:83},col:{top:3,height:42},lab:4.4,colFont:{fontSize:7,fontWeight:'bold',fontFamily:'Liberation Sans'},labMargin:4},
  B:{heat:{left:382,top:81,width:162,height:568},row:{left:282,width:100},col:{top:3,height:55},lab:5.4,colFont:{fontSize:7.5,fontWeight:'bold',fontFamily:'Liberation Serif'},labMargin:3},
  C:{heat:{left:691,top:66,width:132,height:1167},row:{left:608,width:83},col:{top:3,height:47},lab:4,colFont:{fontSize:4.8,fontWeight:'bold',fontFamily:'Liberation Sans'},labMargin:3}
};
const panels=[['A',A_cols,A_rows,A_values,A_colLinkage],['B',B_cols,B_rows,B_values,B_colLinkage],['C',C_cols,C_rows,C_values,C_colLinkage]];

const grid=[],xAxis=[],yAxis=[],heatSeries=[],lineSeries=[];
panels.forEach(([key,cols,rows,vals,link],k)=>{
  const L=P[key],h=L.heat,gi=k*3;
  const rt=rowTree(vals),ct=colTree(link,cols.length);
  grid.push({left:h.left,top:h.top,width:h.width,height:h.height});
  grid.push({left:L.row.left,top:h.top,width:L.row.width,height:h.height});
  grid.push({left:h.left,top:L.col.top,width:h.width,height:L.col.height});
  xAxis.push({gridIndex:gi,type:'category',data:cols,position:'top',axisLine:{show:false},axisTick:{show:false},splitLine:{show:false},
    axisLabel:Object.assign({rotate:90,color:'#222',margin:2,interval:0},L.colFont)});
  yAxis.push({gridIndex:gi,type:'category',data:rows,inverse:true,position:'right',axisLine:{show:false},axisTick:{show:false},splitLine:{show:false},
    axisLabel:{fontSize:L.lab,color:'#333',margin:L.labMargin,interval:0,fontFamily:'Liberation Sans'}});
  xAxis.push({gridIndex:gi+1,type:'value',min:0,max:rt.root,inverse:true,show:false});
  yAxis.push({gridIndex:gi+1,type:'value',min:0,max:rows.length,inverse:true,show:false});
  xAxis.push({gridIndex:gi+2,type:'value',min:0,max:cols.length,show:false});
  yAxis.push({gridIndex:gi+2,type:'value',min:0,max:ct.root,show:false});
  heatSeries.push({type:'heatmap',xAxisIndex:gi,yAxisIndex:gi,data:heatData(vals),animation:false,progressive:0,
    itemStyle:{borderWidth:0},emphasis:{disabled:true}});
  lineSeries.push(segSeries(rt.segs,gi+1,gi+1));
  lineSeries.push(segSeries(ct.segs,gi+2,gi+2));
});

// Venn layout (pixels)
const VENN_CIRCLES=[{cx:408,cy:948,r:79,fill:'rgba(0,0,255,0.5)'},{cx:510,cy:948,r:78,fill:'rgba(255,255,0,0.5)'},{cx:458,cy:1038,r:78,fill:'rgba(0,255,0,0.5)'}];
const VENN_TITLE_POS=[{x:398,y:849,c:'#1a1ae8'},{x:532,y:850,c:'#7f7d1f'},{x:458,y:1136,c:'#238c23'}];
const VENN_COUNT_POS=[[391,930],[527,930],[459,1053],[459,930],[417,1001],[502,1001],[459,976]];
const vennSeries=[
 {type:'custom',coordinateSystem:'none',data:VENN_SETS,silent:true,animation:false,
  renderItem:(p,api)=>{const c=VENN_CIRCLES[p.dataIndex],t=VENN_TITLE_POS[p.dataIndex];
    return {type:'group',children:[{type:'circle',shape:{cx:c.cx,cy:c.cy,r:c.r},style:{fill:c.fill,stroke:null}},
      {type:'text',style:{x:t.x,y:t.y,text:VENN_SETS[p.dataIndex],fill:t.c,font:'bold 21px "Liberation Serif"',align:'center',verticalAlign:'middle'}}]};}},
 {type:'custom',coordinateSystem:'none',data:VENN_SETS,silent:true,animation:false,
  renderItem:(p,api)=>{const c=VENN_CIRCLES[p.dataIndex];return {type:'circle',shape:{cx:c.cx,cy:c.cy,r:c.r},style:{fill:'none',stroke:'#000',lineWidth:1.2}};}},
 {type:'custom',coordinateSystem:'none',data:VENN_COUNTS,silent:true,animation:false,
  renderItem:(p,api)=>{const q=VENN_COUNT_POS[p.dataIndex];return {type:'text',style:{x:q[0],y:q[1],text:String(api.value(0)),fill:'#000',font:'bold 17px "Liberation Sans"',align:'center',verticalAlign:'middle'}};}}
];

// colorbars and panel letters
const graphic=[];
function colorbar(x,y,w,h,tickX,labY,fs){
  graphic.push({type:'rect',shape:{x:x,y:y,width:w,height:h},silent:true,
    style:{fill:new echarts.graphic.LinearGradient(0,0,1,0,[{offset:0,color:'#7658ff'},{offset:0.25,color:'#bcaeff'},{offset:0.5,color:'#ffffff'},{offset:0.75,color:'#ffaa96'},{offset:1,color:'#ff5535'}])}});
  COLORBAR_TICKS.forEach((t,i)=>graphic.push({type:'text',silent:true,style:{x:tickX[i],y:labY,text:t,fill:'#333',font:fs+'px "Liberation Sans"',align:'center',verticalAlign:'middle'}}));
}
colorbar(90,1237,83,6,[95,113.5,131.5,150,168],1248.5,5.5);
colorbar(381,654,102,8,[388,410,432.5,455,477],668,6.5);
colorbar(690,1236,83,7,[695,713,731.5,750,768],1247.5,5.5);
[['A',9.5,12,18],['B',258.5,12,18],['C',624,12,18],['D',303.5,846.5,16]].forEach(([t,x,y,s])=>
  graphic.push({type:'text',silent:true,style:{x:x,y:y,text:t,fill:'#000',font:'bold '+s+'px "Liberation Sans"',align:'center',verticalAlign:'middle'}}));

const chart=echarts.init(document.getElementById('c'),null,{renderer:'canvas',width:858,height:1251});
chart.setOption({
  backgroundColor:'#ffffff',animation:false,
  grid:grid,xAxis:xAxis,yAxis:yAxis,
  visualMap:{type:'continuous',show:false,min:-0.5,max:0.5,dimension:2,seriesIndex:[0,1,2],inRange:{color:COLOR_STOPS}},
  series:heatSeries.concat(lineSeries,vennSeries),
  graphic:graphic
});
</script></body></html>
